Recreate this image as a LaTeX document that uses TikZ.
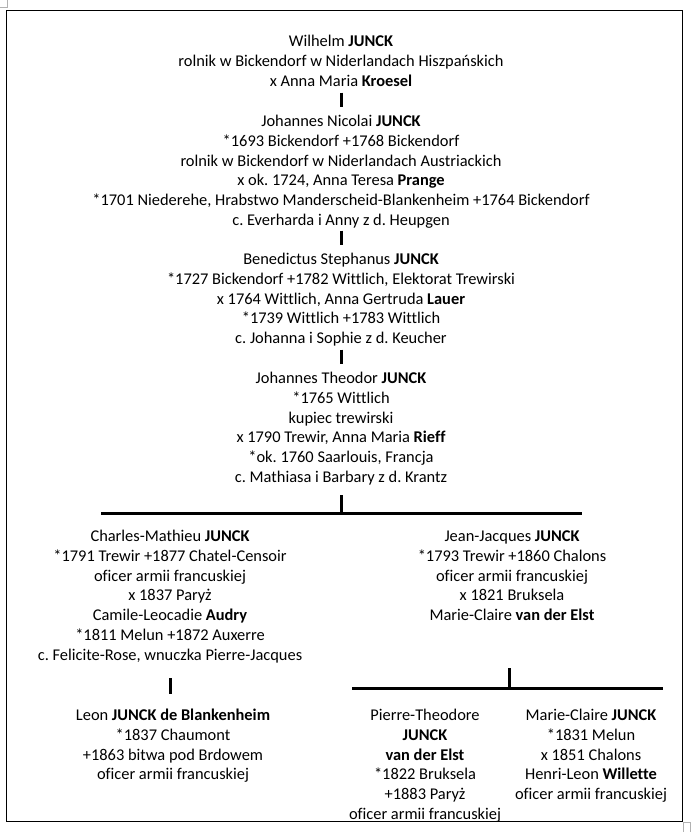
\documentclass[tikz,border=0pt]{standalone}
\usepackage{fontspec}
\setmainfont[Ligatures=NoCommon]{Carlito}
\frenchspacing
\newcommand{\fstrut}{\rule{0pt}{10.5pt}}
\begin{document}
\begin{tikzpicture}[x=0.75pt,y=-0.75pt,
  person/.style={align=center, anchor=north, inner sep=0pt, font=\fontsize{12.3pt}{14.8pt}\selectfont\frenchspacing},
  bar/.style={line width=2.25pt},
  frame/.style={line width=0.75pt},
  cornermark/.style={line width=0.5pt, draw=gray!60}]
\useasboundingbox (0,0) rectangle (690,832);
\draw[frame] (6,10) rectangle (682,821);
% small corner marks
\draw[cornermark] (0,7) -- (7,7) -- (7,0);
\draw[cornermark] (683,822) rectangle (690,832);

\node[person] (b1) at (341,32.5) {\fstrut Wilhelm \textbf{JUNCK}\\
rolnik w Bickendorf w Niderlandach Hiszpańskich\\
x Anna Maria \textbf{Kroesel}};

\node[person] (b2) at (341,112.5) {\fstrut Johannes Nicolai \textbf{JUNCK}\\
*1693 Bickendorf +1768 Bickendorf\\
rolnik w Bickendorf w Niderlandach Austriackich\\
x ok. 1724, Anna Teresa \textbf{Prange}\\
*1701 Niederehe, Hrabstwo Manderscheid-Blankenheim +1764 Bickendorf\\
c. Everharda i Anny z d. Heupgen};

\node[person] (b3) at (341,250.5) {\fstrut Benedictus Stephanus \textbf{JUNCK}\\
*1727 Bickendorf +1782 Wittlich, Elektorat Trewirski\\
x 1764 Wittlich, Anna Gertruda \textbf{Lauer}\\
*1739 Wittlich +1783 Wittlich\\
c. Johanna i Sophie z d. Keucher};

\node[person] (b4) at (341,369.5) {\fstrut Johannes Theodor \textbf{JUNCK}\\
*1765 Wittlich\\
kupiec trewirski\\
x 1790 Trewir, Anna Maria \textbf{Rieff}\\
*ok. 1760 Saarlouis, Francja\\
c. Mathiasa i Barbary z d. Krantz};

\node[person] (c1) at (170,527.5) {\fstrut Charles-Mathieu \textbf{JUNCK}\\
*1791 Trewir +1877 Chatel-Censoir\\
oficer armii francuskiej\\
x 1837 Paryż\\
Camile-Leocadie \textbf{Audry}\\
*1811 Melun +1872 Auxerre\\
c. Felicite-Rose, wnuczka Pierre-Jacques};

\node[person] (c2) at (512,527.5) {\fstrut Jean-Jacques \textbf{JUNCK}\\
*1793 Trewir +1860 Chalons\\
oficer armii francuskiej\\
x 1821 Bruksela\\
Marie-Claire \textbf{van der Elst}};

\node[person] (d1) at (173,706.5) {\fstrut Leon \textbf{JUNCK de Blankenheim}\\
*1837 Chaumont\\
+1863 bitwa pod Brdowem\\
oficer armii francuskiej};

\node[person] (d2) at (425,706.5) {\fstrut Pierre-Theodore\\
\textbf{JUNCK}\\
\textbf{van der Elst}\\
*1822 Bruksela\\
+1883 Paryż\\
oficer armii francuskiej};

\node[person] (d3) at (591,706.5) {\fstrut Marie-Claire \textbf{JUNCK}\\
*1831 Melun\\
x 1851 Chalons\\
Henri-Leon \textbf{Willette}\\
oficer armii francuskiej};

% connector coordinates
\coordinate (s1a) at (341,92.5);  \coordinate (s1b) at (341,107);
\coordinate (s2a) at (341,230.5); \coordinate (s2b) at (341,245);
\coordinate (s3a) at (341,349.5); \coordinate (s3b) at (341,364);
\coordinate (s4a) at (341,495);   \coordinate (s4b) at (341,513);
\coordinate (h1l) at (101,513);   \coordinate (h1r) at (582,513);
\coordinate (s5a) at (170,678);   \coordinate (s5b) at (170,694);
\coordinate (s6a) at (509,668);   \coordinate (s6b) at (509,688);
\coordinate (h2l) at (352,688);   \coordinate (h2r) at (663,688);

\draw[bar] (s1a) -- (s1b);
\draw[bar] (s2a) -- (s2b);
\draw[bar] (s3a) -- (s3b);
\draw[bar] (s4a) -- (s4b);
\draw[bar] (h1l) -- (h1r);
\draw[bar] (s5a) -- (s5b);
\draw[bar] (s6a) -- (s6b);
\draw[bar] (h2l) -- (h2r);
\end{tikzpicture}
\end{document}
